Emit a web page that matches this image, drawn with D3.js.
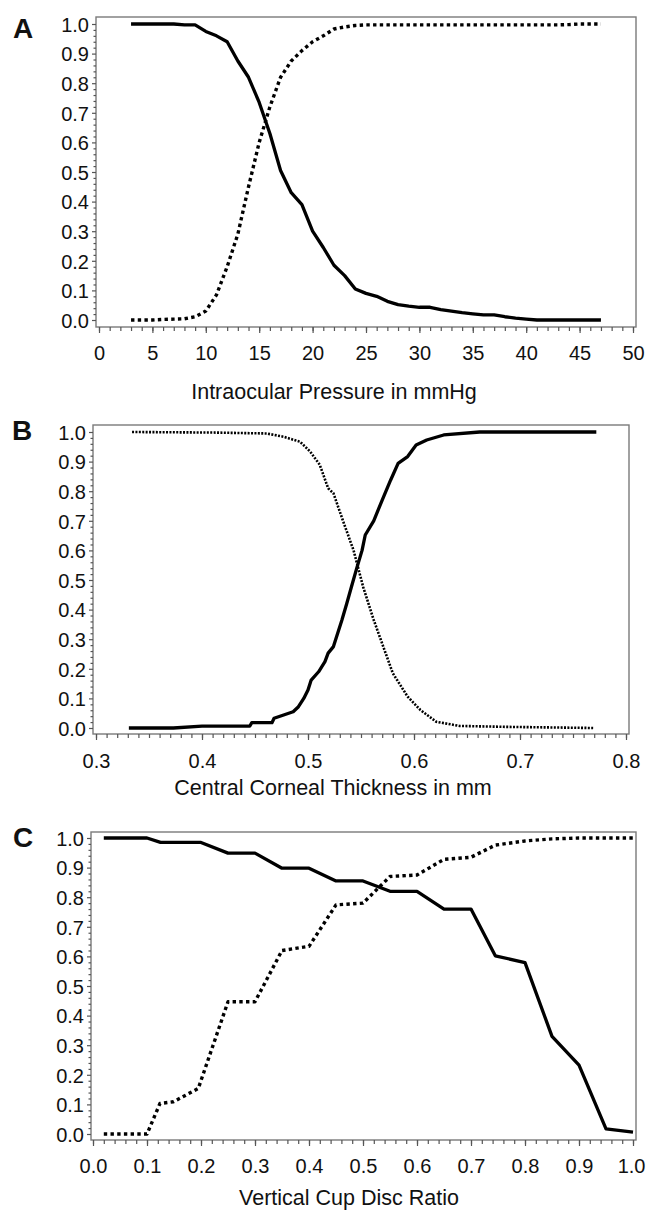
<!DOCTYPE html>
<html>
<head>
<meta charset="utf-8">
<script src="https://cdn.jsdelivr.net/npm/d3@7"></script>
<style>
  html, body { margin: 0; padding: 0; background: #fff; }
  svg { display: block; }
  text { font-family: "Liberation Sans", Arial, sans-serif; fill: #111; }
</style>
</head>
<body>
<svg id="chart" width="646" height="1212"></svg>
<script>
// ---------------- DATA ----------------
// Panel A: Intraocular pressure (mmHg)
const iopX = [3,4,5,6,7,8,9,10,11,12,13,14,15,16,17,18,19,20,21,22,23,24,25,26,27,28,29,30,31,32,33,34,35,36,37,38,39,40,41,42,43,44,45,46,47];
const iopSolid = [1.0,1.0,1.0,1.0,1.0,0.997,0.997,0.975,0.96,0.94,0.875,0.82,0.735,0.63,0.505,0.43,0.39,0.30,0.245,0.185,0.15,0.105,0.09,0.08,0.063,0.052,0.047,0.043,0.043,0.035,0.03,0.025,0.021,0.017,0.017,0.011,0.006,0.003,0,0,0,0,0,0,0];
const iopDotted = [0,0,0,0.002,0.003,0.004,0.011,0.03,0.085,0.18,0.29,0.45,0.6,0.72,0.82,0.875,0.91,0.94,0.96,0.983,0.99,0.995,0.997,0.997,0.997,0.997,0.997,0.997,0.997,0.997,0.997,0.997,0.997,0.997,0.997,0.997,0.997,0.997,0.997,0.997,0.997,0.998,1.0,1.0,1.0];

// Panel B: Central corneal thickness (mm)
const cctSolidX = [0.331,0.373,0.400,0.445,0.447,0.466,0.468,0.477,0.486,0.491,0.496,0.500,0.503,0.510,0.516,0.519,0.524,0.532,0.5365,0.541,0.546,0.551,0.554,0.562,0.570,0.578,0.585,0.594,0.602,0.612,0.628,0.662,0.772];
const cctSolidY = [0.0,0.0,0.006,0.006,0.018,0.018,0.033,0.044,0.055,0.072,0.10,0.128,0.162,0.19,0.224,0.253,0.275,0.365,0.42,0.477,0.54,0.60,0.652,0.70,0.77,0.838,0.894,0.917,0.956,0.973,0.99,1.0,1.0];
const cctDottedX = [0.334,0.414,0.461,0.477,0.4925,0.502,0.511,0.519,0.524,0.533,0.543,0.552,0.562,0.571,0.580,0.594,0.606,0.621,0.643,0.684,0.769];
const cctDottedY = [1.0,0.998,0.995,0.984,0.967,0.934,0.89,0.81,0.793,0.70,0.60,0.477,0.365,0.275,0.185,0.106,0.061,0.021,0.007,0.004,0.0];

// Panel C: Vertical cup disc ratio
const cdrSolidX = [0.02,0.10,0.125,0.20,0.25,0.30,0.35,0.40,0.45,0.50,0.55,0.60,0.65,0.70,0.745,0.80,0.85,0.90,0.95,1.0];
const cdrSolidY = [1.0,1.0,0.985,0.985,0.949,0.949,0.898,0.898,0.855,0.855,0.82,0.82,0.76,0.76,0.602,0.579,0.33,0.233,0.017,0.006];
const cdrDottedX = [0.02,0.10,0.124,0.149,0.195,0.25,0.30,0.35,0.40,0.45,0.50,0.55,0.60,0.65,0.70,0.745,0.80,0.85,0.90,0.95,1.0];
const cdrDottedY = [0.0,0.0,0.103,0.109,0.154,0.447,0.447,0.62,0.634,0.774,0.78,0.87,0.875,0.928,0.935,0.976,0.99,0.997,1.0,1.0,1.0];

// Tick labels
const yTickLabels = ["0.0","0.1","0.2","0.3","0.4","0.5","0.6","0.7","0.8","0.9","1.0"];
const iopTickLabels = ["0","5","10","15","20","25","30","35","40","45","50"];
const cctTickLabels = ["0.3","0.4","0.5","0.6","0.7","0.8"];
const cdrTickLabels = ["0.0","0.1","0.2","0.3","0.4","0.5","0.6","0.7","0.8","0.9","1.0"];

const panelLetters = ["A","B","C"];
const axisTitles = ["Intraocular Pressure in mmHg","Central Corneal Thickness in mm","Vertical Cup Disc Ratio"];

// ---------------- LAYOUT ----------------
const svg = d3.select("#chart");
const W = 646;

const panels = [
  {
    letter: panelLetters[0], title: axisTitles[0],
    frame: {x0: 96, x1: 636, y0: 17, y1: 327},
    xDomain: [0, 50], xRange: [99, 633], yRange: [320, 24],
    xTicks: iopTickLabels, xMinorStep: 1,
    letterPos: [13, 38], tickBase: 360, titleBase: 399, titleX: 334,
    series: [
      {x: iopX, y: iopSolid, style: "solid"},
      {x: iopX, y: iopDotted, style: "dot"}
    ]
  },
  {
    letter: panelLetters[1], title: axisTitles[1],
    frame: {x0: 93, x1: 629, y0: 425, y1: 734},
    xDomain: [0.3, 0.8], xRange: [96, 626], yRange: [728, 432],
    xTicks: cctTickLabels, xMinorStep: 0.01,
    letterPos: [12, 440], tickBase: 768, titleBase: 795, titleX: 333,
    series: [
      {x: cctSolidX, y: cctSolidY, style: "solid"},
      {x: cctDottedX, y: cctDottedY, style: "finedot"}
    ]
  },
  {
    letter: panelLetters[2], title: axisTitles[2],
    frame: {x0: 91, x1: 636, y0: 832, y1: 1140},
    xDomain: [0, 1], xRange: [93, 633], yRange: [1134, 838],
    xTicks: cdrTickLabels, xMinorStep: 0.02,
    letterPos: [13, 847], tickBase: 1173, titleBase: 1205, titleX: 349,
    series: [
      {x: cdrSolidX, y: cdrSolidY, style: "solid"},
      {x: cdrDottedX, y: cdrDottedY, style: "dot"}
    ]
  }
];

const lineStyles = {
  solid:   {width: 3.3, dash: null},
  dot:     {width: 3.4, dash: "3.4,3.3"},
  finedot: {width: 2.6, dash: "2.0,1.4"}
};

panels.forEach(p => {
  const g = svg.append("g");
  const x = d3.scaleLinear().domain(p.xDomain).range(p.xRange);
  const y = d3.scaleLinear().domain([0, 1]).range(p.yRange);
  const f = p.frame;

  // frame
  g.append("rect")
    .attr("x", f.x0).attr("y", f.y0)
    .attr("width", f.x1 - f.x0).attr("height", f.y1 - f.y0)
    .attr("fill", "none").attr("stroke", "#7a7a7a").attr("stroke-width", 1.4);

  // y axis major
  const yMajor = yTickLabels.map(Number);
  const yAx = g.append("g").attr("transform", `translate(${f.x0},0)`)
    .call(d3.axisLeft(y).tickValues(yMajor).tickSize(4).tickPadding(4)
      .tickFormat((d, i) => yTickLabels[i]));
  // y axis minor
  const yMinor = d3.range(0, 101, 2).map(v => v / 100).filter(v => Math.round(v * 100) % 10 !== 0);
  const yAxm = g.append("g").attr("transform", `translate(${f.x0},0)`)
    .call(d3.axisLeft(y).tickValues(yMinor).tickSize(2.5).tickFormat(""));

  // x axis major
  const xMajor = p.xTicks.map(Number);
  const xAx = g.append("g").attr("transform", `translate(0,${f.y1})`)
    .call(d3.axisBottom(x).tickValues(xMajor).tickSize(6).tickPadding(14)
      .tickFormat((d, i) => p.xTicks[i]));
  // x axis minor
  const nMinor = Math.round((p.xDomain[1] - p.xDomain[0]) / p.xMinorStep);
  const xMinor = d3.range(0, nMinor + 1).map(i => p.xDomain[0] + i * p.xMinorStep);
  const xAxm = g.append("g").attr("transform", `translate(0,${f.y1})`)
    .call(d3.axisBottom(x).tickValues(xMinor).tickSize(4).tickFormat(""));

  [yAx, yAxm, xAx, xAxm].forEach(a => {
    a.select(".domain").remove();
    a.selectAll("line").attr("stroke", "#555").attr("stroke-width", 1.2);
  });
  [yAx, xAx].forEach(a => a.selectAll("text")
    .style("font-family", '"Liberation Sans", Arial, sans-serif')
    .style("font-size", "20px").attr("fill", "#111"));
  xAx.selectAll("text").attr("dy", null)
    .each(function() { d3.select(this).attr("y", p.tickBase - f.y1); });
  // keep tick labels inside the page edge
  xAx.selectAll(".tick").each(function(d) {
    const t = d3.select(this).select("text");
    const bb = t.node().getBBox();
    const cx = x(d);
    const over = cx + bb.width / 2 - (W - 1);
    if (over > 0) t.attr("x", -over);
  });
  yAx.selectAll("text").attr("x", -7).attr("dy", "0.36em");

  // series lines
  p.series.forEach(s => {
    const pts = s.x.map((xv, i) => [xv, s.y[i]]);
    const line = d3.line().x(d => x(d[0])).y(d => y(d[1]));
    const st = lineStyles[s.style];
    g.append("path").datum(pts)
      .attr("d", line)
      .attr("fill", "none")
      .attr("stroke", "#000")
      .attr("stroke-width", st.width)
      .attr("stroke-linejoin", "round")
      .attr("stroke-dasharray", st.dash);
  });

  // panel letter
  g.append("text").attr("x", p.letterPos[0]).attr("y", p.letterPos[1])
    .style("font-size", "28px").style("font-weight", "bold").text(p.letter);

  // axis title
  g.append("text").attr("x", p.titleX).attr("y", p.titleBase)
    .attr("text-anchor", "middle").style("font-size", "21.5px").text(p.title);
});
</script>
</body>
</html>
